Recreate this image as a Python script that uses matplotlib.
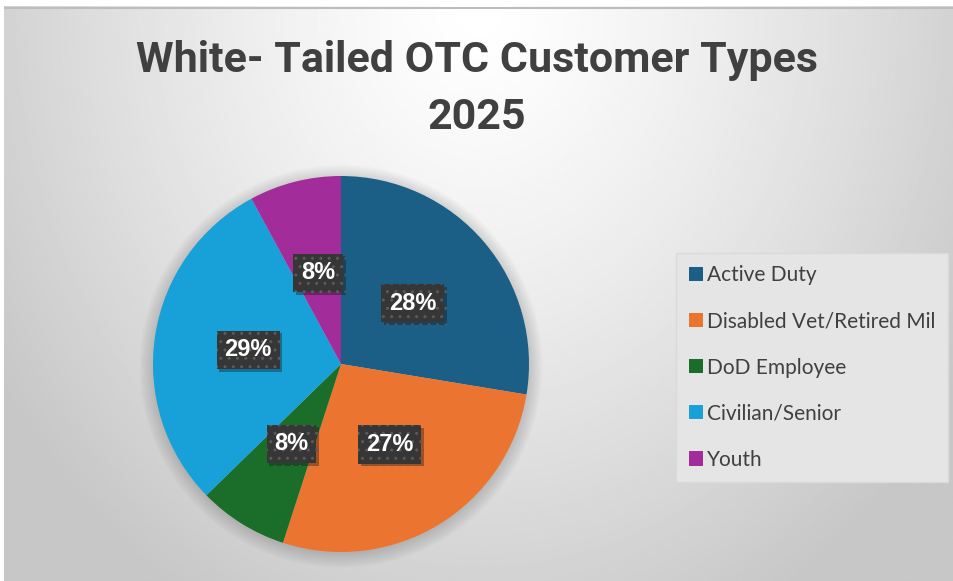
import numpy as np
import matplotlib
matplotlib.use('Agg')
import matplotlib.pyplot as plt
import matplotlib.patheffects as pe
from matplotlib.patches import Circle

# data (shares of customers, percent)
labels = ['Active Duty', 'Disabled Vet/Retired Mil', 'DoD Employee',
          'Civilian/Senior', 'Youth']
shares = [27.6, 27.4, 7.7, 29.4, 7.9]
colors = ['#1b5f86', '#ec7431', '#1b6e29', '#18a0d8', '#a22c99']
title = 'White- Tailed OTC Customer Types\n2025'

W, H = 954, 581
fig = plt.figure(figsize=(W / 100, H / 100), dpi=100, facecolor='white')

# chart area with radial grey gradient
bg = fig.add_axes([4 / W, 0, (W - 4) / W, (H - 6) / H])
bg.set_axis_off()
yy, xx = np.mgrid[0:1:300j, 0:1:500j]
d = np.sqrt(((xx - 0.5) / 0.6) ** 2 + (yy / 1.2) ** 2)
d = np.clip(d, 0, 1)
shade = 1 - 0.22 * d ** 1.3
bg.imshow(shade, cmap='gray', vmin=0, vmax=1, aspect='auto',
          extent=[0, 1, 1, 0], interpolation='bilinear')
bg.set_xlim(0, 1)
bg.set_ylim(1, 0)
bg.axhline(0.003, color='#bdbdbd', lw=1.5)

fig.text(0.5, 1 - 89 / H, title, ha='center', va='center',
         fontsize=31, fontweight='bold', color='#404040',
         family=['Roboto', 'DejaVu Sans'], linespacing=1.5)

# pie
R = 188
cx, cy = 341, 364
ax = fig.add_axes([(cx - R) / W, (H - cy - R) / H, 2 * R / W, 2 * R / H])
ax.set_axis_off()
for k in range(8):
    ax.add_patch(Circle((0.0, -0.012), 1.0 + 0.01 * k, color='#000000',
                        alpha=0.018, zorder=0, lw=0, clip_on=False))
wedges, _, autotexts = ax.pie(shares, colors=colors, startangle=90,
                              counterclock=False, autopct='%.0f%%',
                              pctdistance=0.5, radius=1,
                              wedgeprops=dict(linewidth=0))
for t in autotexts:
    t.set_color('white')
    t.set_fontsize(17)
    t.set_fontweight('bold')
    t.set_family(['Liberation Sans', 'DejaVu Sans'])
    t.set_bbox(dict(boxstyle='square,pad=0.33', facecolor='#363636',
                    edgecolor='#5a5a5a', linewidth=0, hatch='..'))
    t.get_bbox_patch().set_path_effects(
        [pe.SimplePatchShadow(offset=(2, -2), alpha=0.35), pe.Normal()])
ax.set_xlim(-1, 1)
ax.set_ylim(-1, 1)

leg = fig.legend(wedges, labels, loc='upper left',
                 bbox_to_anchor=(676 / W, 1 - 253 / H), borderaxespad=0,
                 prop={'family': ['Lato', 'DejaVu Sans'], 'size': 15},
                 labelcolor='#404040', handlelength=0.68, handleheight=0.68,
                 handletextpad=0.22, labelspacing=1.25, borderpad=0.6,
                 fancybox=False, framealpha=1, facecolor='#e5e5e5',
                 edgecolor='#dadada')

fig.savefig('out.png', dpi=100, facecolor='white')
